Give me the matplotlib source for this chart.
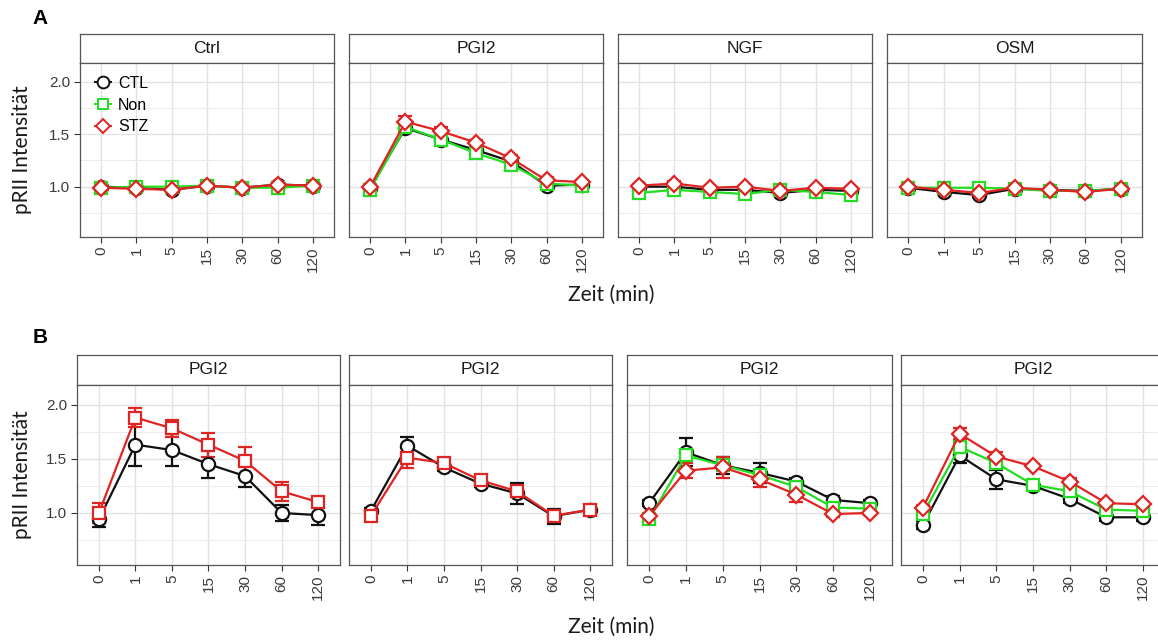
import matplotlib
matplotlib.use('Agg')
import matplotlib.pyplot as plt
from matplotlib.ticker import FixedLocator
from matplotlib.lines import Line2D

times = ['0', '1', '5', '15', '30', '60', '120']

# row A: four stimuli, three groups each
a_titles = ['Ctrl', 'PGI2', 'NGF', 'OSM']
a_ctl = [[1.00, 0.99, 0.97, 1.01, 0.99, 1.02, 1.01],
         [0.99, 1.56, 1.45, 1.35, 1.24, 1.01, 1.02],
         [1.00, 1.00, 0.97, 0.97, 0.94, 0.97, 0.96],
         [0.99, 0.95, 0.92, 0.98, 0.97, 0.96, 0.98]]
a_non = [[0.99, 1.00, 1.00, 1.01, 0.99, 0.99, 1.01],
         [0.97, 1.57, 1.45, 1.32, 1.21, 1.03, 1.01],
         [0.94, 0.97, 0.95, 0.93, 0.97, 0.95, 0.92],
         [0.99, 0.99, 0.99, 0.98, 0.96, 0.96, 0.98]]
a_stz = [[0.99, 0.98, 0.97, 1.01, 0.99, 1.02, 1.01],
         [1.00, 1.62, 1.53, 1.42, 1.27, 1.06, 1.045],
         [1.01, 1.03, 0.99, 1.00, 0.96, 0.99, 0.98],
         [1.00, 0.97, 0.94, 0.99, 0.97, 0.95, 0.98]]
a_ctl_err = [[0.02] * 7,
             [0.02, 0.05, 0.05, 0.03, 0.03, 0.03, 0.02],
             [0.02] * 7,
             [0.02] * 7]
a_non_err = [[0.02] * 7,
             [0.02, 0.04, 0.03, 0.03, 0.02, 0.02, 0.02],
             [0.02] * 7,
             [0.02] * 7]
a_stz_err = [[0.02] * 7,
             [0.02, 0.05, 0.04, 0.03, 0.03, 0.03, 0.02],
             [0.02] * 7,
             [0.02] * 7]

# row B: PGI2 in four experiments
b_ctl = [[0.94, 1.63, 1.58, 1.45, 1.34, 1.00, 0.98],
         [1.02, 1.62, 1.42, 1.27, 1.18, 0.97, 1.03],
         [1.09, 1.56, 1.44, 1.37, 1.29, 1.12, 1.09],
         [0.89, 1.53, 1.31, 1.25, 1.13, 0.96, 0.96]]
b_ctl_err = [[0.07, 0.20, 0.15, 0.13, 0.10, 0.07, 0.09],
             [0.03, 0.08, 0.03, 0.03, 0.10, 0.07, 0.03],
             [0.03, 0.13, 0.08, 0.09, 0.03, 0.04, 0.03],
             [0.04, 0.07, 0.09, 0.03, 0.04, 0.03, 0.03]]
b_non = [None, None,
         [0.94, 1.53, 1.44, 1.35, 1.24, 1.05, 1.04],
         [0.99, 1.61, 1.46, 1.26, 1.20, 1.03, 1.02]]
b_non_err = [None, None,
             [0.03, 0.04, 0.03, 0.03, 0.03, 0.03, 0.02],
             [0.03, 0.04, 0.05, 0.03, 0.03, 0.03, 0.02]]
b_red = [[1.00, 1.88, 1.78, 1.63, 1.48, 1.20, 1.10],
         [0.975, 1.51, 1.46, 1.30, 1.20, 0.975, 1.03],
         [0.97, 1.39, 1.42, 1.31, 1.17, 0.99, 1.00],
         [1.05, 1.73, 1.52, 1.43, 1.29, 1.09, 1.08]]
b_red_err = [[0.09, 0.09, 0.08, 0.11, 0.13, 0.09, 0.04],
             [0.02, 0.10, 0.04, 0.03, 0.03, 0.03, 0.03],
             [0.02, 0.07, 0.10, 0.07, 0.07, 0.03, 0.02],
             [0.02, 0.05, 0.04, 0.02, 0.03, 0.02, 0.02]]
b_red_marker = ['s', 's', 'D', 'D']

BLACK = '#111111'
GREEN = '#22dd22'
RED = '#e02424'
MS = {'o': 9.5, 's': 8.5, 'D': 8}

W, H = 1158, 641
fig = plt.figure(figsize=(W / 100, H / 100), dpi=100)
fig.patch.set_facecolor('white')


def box(x0, x1, y0, y1):
    return [x0 / W, 1 - y1 / H, (x1 - x0) / W, (y1 - y0) / H]


def panel(x0, x1, top, sbot, bot, title, series, first):
    sax = fig.add_axes(box(x0, x1, top, sbot))
    sax.set_xticks([]); sax.set_yticks([])
    for s in sax.spines.values():
        s.set_color('#555555'); s.set_linewidth(0.9)
    sax.text(0.5, 0.5, title, ha='center', va='center', fontsize=12.5,
             color='#1a1a1a', family='Liberation Sans', transform=sax.transAxes)

    ax = fig.add_axes(box(x0, x1, sbot, bot))
    ax.set_xlim(-0.6, 6.6); ax.set_ylim(0.52, 2.18)
    ax.set_xticks(range(7))
    ax.set_xticklabels(times, rotation=90, fontsize=11, color='#3a3a3a',
                       family='Liberation Sans')
    ax.yaxis.set_major_locator(FixedLocator([1.0, 1.5, 2.0]))
    ax.yaxis.set_minor_locator(FixedLocator([0.75, 1.25, 1.75]))
    ax.set_yticklabels(['1.0', '1.5', '2.0'], fontsize=11, color='#3a3a3a',
                       family='Liberation Sans')
    ax.grid(which='major', color='#e2e2e2', lw=1.0)
    ax.grid(which='minor', axis='y', color='#ececec', lw=0.7)
    ax.set_axisbelow(True)
    ax.tick_params(which='major', length=4, width=0.8, color='#333333', pad=3)
    ax.tick_params(which='minor', length=0)
    if not first:
        ax.tick_params(axis='y', left=False, labelleft=False)
    for s in ax.spines.values():
        s.set_color('#555555'); s.set_linewidth(0.9)
    for mean, err, col, mk, lab in series:
        ax.errorbar(range(7), mean, yerr=err, color=col, marker=mk, ms=MS[mk],
                    mfc='white', mec=col, mew=1.6, lw=1.6, elinewidth=1.6,
                    capsize=5, capthick=1.6, label=lab)
    return ax


xa = [(80, 334), (349, 603), (618, 872), (887, 1142)]
xb = [(77, 340), (349, 612), (627, 892), (901, 1165)]

for i in range(4):
    ser = [(a_ctl[i], a_ctl_err[i], BLACK, 'o', 'CTL'),
           (a_non[i], a_non_err[i], GREEN, 's', 'Non'),
           (a_stz[i], a_stz_err[i], RED, 'D', 'STZ')]
    ax = panel(xa[i][0], xa[i][1], 34, 63, 237, a_titles[i], ser, i == 0)
    if i == 0:
        handles = [Line2D([], [], color=c, marker=m, ms=MS[m] - 1, mfc='white', mec=c,
                          mew=1.4, lw=1.4) for _, _, c, m, _ in ser]
        ax.legend(handles, [s[4] for s in ser], loc='upper left',
                  bbox_to_anchor=(0.015, 0.99), frameon=False,
                  handlelength=1.0, handletextpad=0.45, labelspacing=0.42,
                  borderaxespad=0.3, prop={'family': 'Liberation Sans', 'size': 11.5})

for i in range(4):
    ser = [(b_ctl[i], b_ctl_err[i], BLACK, 'o', 'CTL')]
    if b_non[i] is not None:
        ser.append((b_non[i], b_non_err[i], GREEN, 's', 'Non'))
    ser.append((b_red[i], b_red_err[i], RED, b_red_marker[i], 'STZ'))
    panel(xb[i][0], xb[i][1], 355, 385, 565, 'PGI2', ser, i == 0)


def ftext(x, y, s, **kw):
    fig.text(x / W, 1 - y / H, s, **kw)


ftext(40, 18, 'A', fontsize=15, weight='bold', family='Liberation Sans', ha='center', va='center')
ftext(40, 338, 'B', fontsize=15, weight='bold', family='Liberation Sans', ha='center', va='center')
for yc in (150, 475):
    ftext(22, yc, 'pRII Intensität', fontsize=15, family='Lato', rotation=90,
          ha='center', va='center', color='#1a1a1a')
for yc in (295, 627):
    ftext(611, yc, 'Zeit (min)', fontsize=15, family='Lato',
          ha='center', va='center', color='#1a1a1a')

fig.savefig('out.png', dpi=100, facecolor='white')
